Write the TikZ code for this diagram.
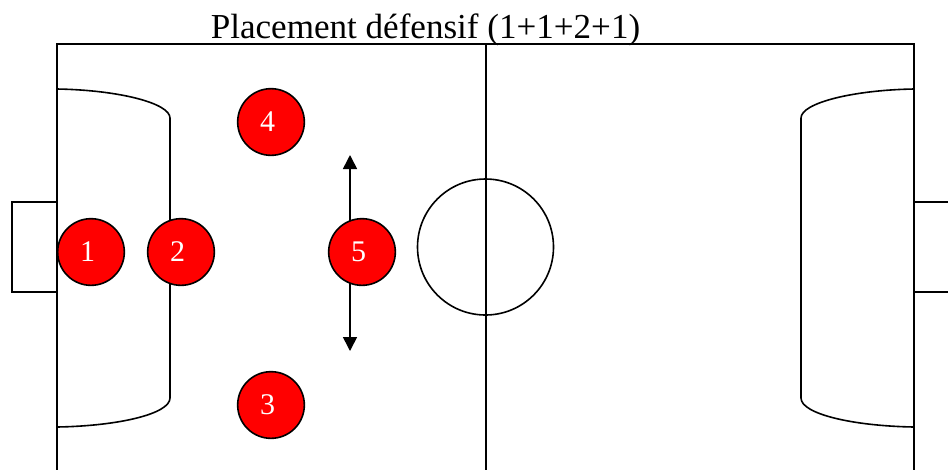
\documentclass[tikz,border=0pt]{standalone}
\usepackage{fontspec}
\setmainfont{Liberation Serif}
\usetikzlibrary{positioning,arrows.meta}
\definecolor{playercol}{HTML}{FF0000}
\tikzset{
  pitch/.style={draw=black, line width=1.2pt},
  player/.style={circle, draw=black, line width=1.2pt, fill=playercol, text=white,
    minimum size=50pt, inner sep=0pt, font=\fontsize{22.5}{24}\selectfont,
    execute at begin node={\hspace*{-5pt}}},
  kickoff/.style={circle, draw=black, line width=1.2pt, minimum size=102pt, inner sep=0pt},
  arr/.style={{Triangle[length=10.5pt, width=10.5pt]}-{Triangle[length=10.5pt, width=10.5pt]},
    draw=black, line width=1.2pt}}
\begin{document}
\begin{tikzpicture}[x=0.75pt, y=-0.75pt]
      \useasboundingbox (0,0) rectangle (948,469);
      \clip (0,0) rectangle (948,469);
      % field
      \draw[pitch] (57,490) -- (57,44) -- (914,44) -- (914,490);
      \draw[pitch] (486,44) -- (486,490);
      \node[kickoff] (rond) at (485.5,247) {};
      % goals
      \draw[pitch] (57,202) -- (12,202) -- (12,292) -- (57,292);
      \draw[pitch] (914,202) -- (960,202);
      \draw[pitch] (914,292) -- (960,292);
      % areas
      \draw[pitch] (57,89) .. controls (118,90) and (170,103) .. (170,118)
        -- (170,398) .. controls (170,414) and (118,426) .. (57,427);
      \draw[pitch] (914,89) .. controls (853,90) and (801,103) .. (801,118)
        -- (801,398) .. controls (801,414) and (853,426) .. (914,427);
      % move of player 5
      \coordinate (hautfleche) at (350,155);
      \coordinate (basfleche) at (350,351);
      \draw[arr] (hautfleche) -- (basfleche);
      \node[player] (j1) at (91,252) {\raisebox{-1pt}{1}};
      \node[player] (j2) at (181,252) {\raisebox{-1pt}{2}};
      \node[player] (j5) at (362,252) {\raisebox{-1pt}{5}};
      \node[player] (j4) at (271,122) {\raisebox{-1pt}{4}};
      \node[player] (j3) at (271,405) {\raisebox{-1pt}{3}};
      \node[font=\fontsize{26.3}{28}\selectfont, inner sep=0pt, anchor=base] (titre) at (425.5,38)
        {Placement défensif (1+1+2+1)};
    \end{tikzpicture}
\end{document}
